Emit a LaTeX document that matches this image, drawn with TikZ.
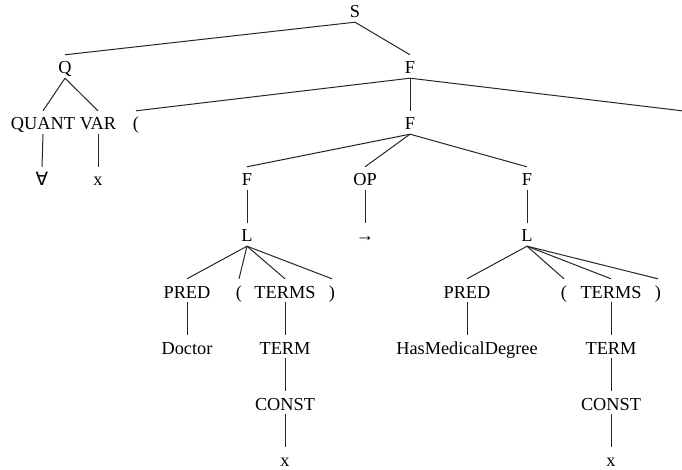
\documentclass[tikz,border=0pt]{standalone}
\usepackage{fontspec}
\setmainfont{Liberation Serif}
\newfontfamily\symfont{DejaVu Sans}

\begin{document}
\begin{tikzpicture}[x=1pt, y=-1pt,
  every node/.style={anchor=base, inner sep=0pt, text height=19pt, text depth=4pt,
    font=\fontsize{18.3}{20}\selectfont},
  edge/.style={line width=1pt, black!85}]
  \useasboundingbox (0,0) rectangle (682,470);

  % top levels
  \node (s) at (355, 18) {S};
  \node (q) at (65, 74) {Q};
  \node (f1) at (410, 74) {F};
  \node (quant) at (43, 130) {QUANT};
  \node (var) at (98, 130) {VAR};
  \node (lp1) at (136, 130) {(};
  \node (f2) at (410, 130) {F};
  \coordinate (rp1) at (682, 110.8);
  \node (forall) at (42, 186) {\symfont ∀};
  \node (x1) at (98, 186) {x};

  % formula
  \node (f3) at (247, 186) {F};
  \node (op) at (365, 186) {OP};
  \node (f4) at (527, 186) {F};
  \node (l1) at (247, 242) {L};
  \node (arr) at (365, 242) {→};
  \node (l2) at (527, 242) {L};

  % left literal
  \node (pred1) at (187, 298) {PRED};
  \node (lp2) at (239, 298) {(};
  \node (terms1) at (285, 298) {TERMS};
  \node (rp2) at (332, 298) {)};
  \node (doctor) at (187, 354) {Doctor};
  \node (term1) at (285, 354) {TERM};
  \node (const1) at (285, 410) {CONST};
  \node (x2) at (285, 466) {x};

  % right literal
  \node (pred2) at (467, 298) {PRED};
  \node (lp3) at (564, 298) {(};
  \node (terms2) at (611, 298) {TERMS};
  \node (rp3) at (658, 298) {)};
  \node (hmd) at (467, 354) {HasMedicalDegree};
  \node (term2) at (611, 354) {TERM};
  \node (const2) at (611, 410) {CONST};
  \node (x3) at (611, 466) {x};

  \foreach \a/\b in {s/q, s/f1, q/quant, q/var, quant/forall, var/x1,
      f1/lp1, f1/f2, f2/f3, f2/op, f2/f4, f3/l1, op/arr, f4/l2,
      l1/pred1, l1/lp2, l1/terms1, l1/rp2, pred1/doctor, terms1/term1,
      term1/const1, const1/x2,
      l2/pred2, l2/lp3, l2/terms2, l2/rp3, pred2/hmd, terms2/term2,
      term2/const2, const2/x3}
    \draw[edge] (\a.south) -- (\b.north);
  \draw[edge] (f1.south) -- (rp1);
\end{tikzpicture}
\end{document}
